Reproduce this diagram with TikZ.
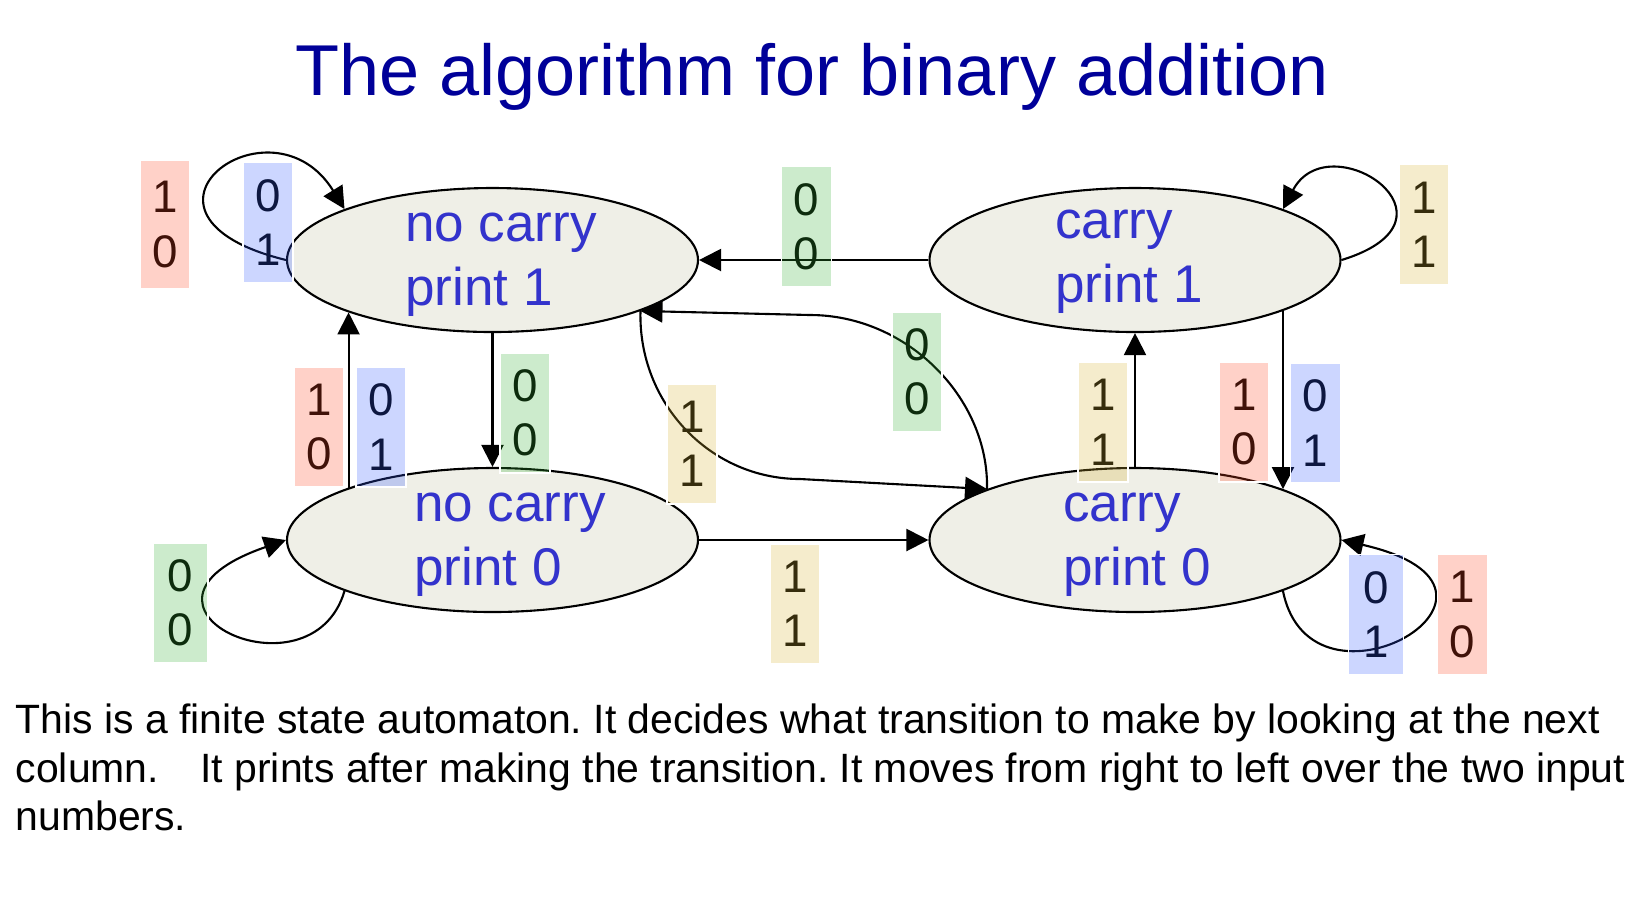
\documentclass[tikz,border=0pt]{standalone}
\usepackage{fontspec}
\setmainfont{Liberation Sans}
\usetikzlibrary{arrows.meta,shapes.geometric}

\definecolor{stfill}{RGB}{239,239,231}
\definecolor{stblue}{RGB}{51,51,204}
\definecolor{ttlblue}{RGB}{0,0,153}
\definecolor{bxred}{RGB}{255,71,35}
\definecolor{bxblue}{RGB}{51,91,255}
\definecolor{bxgreen}{RGB}{51,175,51}
\definecolor{bxyellow}{RGB}{215,179,51}

\tikzset{
  state/.style={ellipse, draw, fill=stfill, line width=0.6pt,
    minimum width=4.11cm, minimum height=1.44cm, inner sep=0pt},
  statename/.style={align=left, text=stblue, inner sep=0pt,
    font=\fontsize{15.1}{18.2}\selectfont},
  move/.style={-{Triangle[length=0.22cm,width=0.22cm]}, line width=0.6pt},
  bits/.style={draw=white, line width=0.5pt, fill opacity=0.25, text opacity=1,
    inner sep=0pt, minimum width=0.5cm, minimum height=1.2cm, align=center,
    font=\fontsize{13}{15.4}\selectfont},
  redbits/.style={bits, fill=bxred, text=bxred!25!black},
  bluebits/.style={bits, fill=bxblue, text=bxblue!25!black},
  greenbits/.style={bits, fill=bxgreen, text=bxgreen!25!black},
  yellowbits/.style={bits, fill=bxyellow, text=bxyellow!25!black},
}

\begin{document}
\frenchspacing
\begin{tikzpicture}
  \useasboundingbox (0,0) rectangle (16.27,-9.14);

  \node[font=\fontsize{20.5}{24}\selectfont, text=ttlblue, anchor=base] (title)
    at (8.12,-0.957) {The algorithm for binary addition};

  % the four states
  \node[state] (nc1) at (4.925,-2.60) {};
  \node[state] (cp1) at (11.35,-2.60) {};
  \node[state] (nc0) at (4.925,-5.40) {};
  \node[state] (cp0) at (11.35,-5.40) {};
  \node[statename] (nc1txt) at (5.01,-2.61) {\strut no carry\\\strut print 1};
  \node[statename] (cp1txt) at (11.29,-2.58) {\strut carry\\\strut print 1};
  \node[statename] (nc0txt) at (5.10,-5.41) {\strut no carry\\\strut print 0};
  \node[statename] (cp0txt) at (11.37,-5.41) {\strut carry\\\strut print 0};

  % transitions
  \draw[move] (cp1) -- (nc1);
  \draw[move] (nc1) -- (nc0);
  \draw[move] (nc0.160) -- (nc1.200);
  \draw[move] (nc0) -- (cp0);
  \draw[move] (cp0) -- (cp1);
  \draw[move] (cp1.-19) -- (cp0.19);
  \draw[move] (nc1.-19) .. controls (6.38,-4.04) and (7.11,-4.79) .. (8.0,-4.79) -- (cp0.161);
  \draw[move] (cp0.161) .. controls (9.89,-3.98) and (9.07,-3.15) .. (8.10,-3.15) -- (nc1.-19);
  % loops
  \draw[move] (nc1.west) .. controls (1.03,-2.15) and (2.71,-0.90) .. (nc1.161);
  \draw[move] (nc0.199) .. controls (3.11,-7.05) and (0.98,-6.05) .. (nc0.west);
  \draw[move] (cp1.east) .. controls (14.75,-2.19) and (13.29,-1.22) .. (cp1.19);
  \draw[move] (cp0.-19) .. controls (13.11,-7.31) and (15.56,-5.89) .. (cp0.east);

  % input columns
  \node[redbits, minimum height=1.29cm] (nc1loopA) at (1.65,-2.245) {1\\0};
  \node[bluebits] (nc1loopB) at (2.68,-2.225) {0\\1};
  \node[greenbits] (cp1nc1) at (8.065,-2.265) {0\\0};
  \node[yellowbits] (cp1loop) at (14.24,-2.245) {1\\1};
  \node[redbits] (nc0nc1A) at (3.19,-4.27) {1\\0};
  \node[bluebits] (nc0nc1B) at (3.81,-4.27) {0\\1};
  \node[greenbits] (nc1nc0) at (5.25,-4.13) {0\\0};
  \node[yellowbits] (nc1cp0) at (6.92,-4.437) {1\\1};
  \node[greenbits] (cp0nc1) at (9.17,-3.718) {0\\0};
  \node[yellowbits] (cp0cp1) at (11.03,-4.223) {1\\1};
  \node[redbits] (cp1cp0A) at (12.44,-4.22) {1\\0};
  \node[bluebits] (cp1cp0B) at (13.155,-4.23) {0\\1};
  \node[greenbits, minimum width=0.55cm] (nc0loop) at (1.807,-6.03) {0\\0};
  \node[yellowbits] (nc0cp0) at (7.947,-6.04) {1\\1};
  \node[bluebits, minimum width=0.55cm] (cp0loopA) at (13.76,-6.145) {0\\1};
  \node[redbits] (cp0loopB) at (14.626,-6.145) {1\\0};

  \node[anchor=north west, align=left, inner sep=0pt,
    font=\fontsize{11.65}{13.75}\selectfont] (notes) at (0.15,-7.035)
    {This is a finite state automaton. It decides what transition to make by looking at the next\\
     column.\hspace{0.3cm} It prints after making the transition. It moves from right to left over the two input\\
     numbers.};
\end{tikzpicture}
\end{document}
